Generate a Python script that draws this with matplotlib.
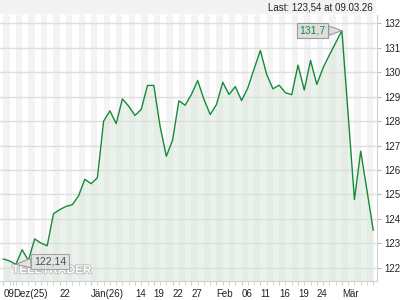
import matplotlib
matplotlib.use('Agg')
import matplotlib.pyplot as plt
import matplotlib.patheffects as pe
from matplotlib.patches import Rectangle
import numpy as np

#Closing prices, one per trading day (09.12.25 - 09.03.26)
prices = [122.36, 122.28, 122.14, 122.74, 122.30, 123.18, 123.01, 122.90, 124.21, 124.38,
          124.51, 124.58, 124.94, 125.62, 125.44, 125.68, 128.00, 128.42, 127.90, 128.91,
          128.61, 128.23, 128.48, 129.46, 129.46, 127.79, 126.56, 127.22, 128.83, 128.65,
          129.09, 129.66, 128.89, 128.27, 128.68, 129.59, 129.09, 129.41, 128.84, 129.36,
          130.14, 130.89, 129.91, 129.32, 129.47, 129.16, 129.08, 130.29, 129.27, 130.48,
          129.50, 130.18, 130.70, 131.20, 131.70, 128.27, 124.79, 126.77, 125.16, 123.54]

#Date labels and the trading day index they sit on
date_labels = ['09', 'Dez(25)', '22', 'Jän(26)', '14', '19', '22', '27',
               'Feb', '06', '11', '16', '19', '24', 'Mär']
date_index = [0, 1.55, 9, 14, 21, 24, 27, 30, 34, 38, 41, 44, 47, 50, 54]

y_ticks = [122, 123, 124, 125, 126, 127, 128, 129, 130, 131, 132]

last_text = 'Last: 123,54 at 09.03.26'

plt.rcParams['font.family'] = ['Liberation Sans', 'DejaVu Sans']

x = np.arange(len(prices))
y = np.array(prices)

fig = plt.figure(figsize=(4.2, 3.0), dpi=100)
fig.patch.set_facecolor('white')

#Grey header strip with last price
fig.patches.append(Rectangle((0, 1 - 13 / 300), 375 / 420, 13 / 300,
                             transform=fig.transFigure, color='#f3f3f3', zorder=0))
fig.text(373 / 420, 1 - 7.5 / 300, last_text, ha='right', va='center',
         fontsize=7, color='#222222')

ax = fig.add_axes([0, 19 / 300, 377 / 420, 266 / 300])
ax.set_facecolor('white')

#Alternating day stripes
for i in range(0, len(prices), 2):
    ax.axvspan(i, i + 1, color='#f3f3f3', lw=0, zorder=0)

#Horizontal grid
for v in y_ticks:
    ax.axhline(v, color='#dedede', lw=1, zorder=1)

ax.set_ylim(121.46, 132.34)
ax.set_xlim(-0.53, 59.6)

#Price line and fill
ax.fill_between(x, y, 121.46, color='#d8e6d8', alpha=0.5, lw=0, zorder=2)
ax.plot(x, y, color='#178a3a', lw=1, zorder=3)

#High / low call-outs
imax = int(np.argmax(y))
imin = int(np.argmin(y))
pointer = dict(arrowstyle='wedge,tail_width=0.9,shrink_factor=0.5',
               fc='#dedede', ec='#9a9a9a', lw=0.8, shrinkA=0, shrinkB=0)
ax.annotate(('%.1f' % y[imax]).replace('.', ','), xy=(imax, y[imax]),
            xytext=(-21, 0), textcoords='offset points', ha='center', va='center',
            fontsize=7.5, color='#178a3a', zorder=6,
            bbox=dict(boxstyle='square,pad=0.25', fc='#dedede', ec='#9a9a9a', lw=0.8),
            arrowprops=pointer)

#Watermark
ax.text(0.032, 0.04, 'TELETRADER', transform=ax.transAxes, fontsize=8.5,
        fontweight='bold', color='white', ha='left', va='center', zorder=4,
        path_effects=[pe.withStroke(linewidth=1.2, foreground='#b8b8b8')])

ax.annotate(('%.2f' % y[imin]).replace('.', ','), xy=(imin, y[imin]),
            xytext=(24.5, 2), textcoords='offset points', ha='center', va='center',
            fontsize=7.5, color='#3c5a45', zorder=5,
            bbox=dict(boxstyle='square,pad=0.25', fc='#e2e2e2', ec='#9a9a9a', lw=0.8, alpha=0.85),
            arrowprops=dict(pointer, fc='#e2e2e2'))

#Axes styling
for s in ['top', 'left']:
    ax.spines[s].set_visible(False)
ax.spines['right'].set_color('#d0d0d0')
ax.spines['bottom'].set_color('#d0d0d0')

ax.yaxis.tick_right()
ax.set_yticks(y_ticks)
ax.set_yticklabels([str(v) for v in y_ticks])
ax.tick_params(axis='y', length=3, color='#bbbbbb', labelsize=7, pad=2, labelcolor='#222222')

ax.set_xticks(date_index)
ax.set_xticklabels(date_labels, ha='left')
ax.set_xticks(x, minor=True)
ax.tick_params(axis='x', which='both', length=3, color='#cccccc', labelsize=7,
               pad=3, labelcolor='#222222')

fig.savefig('out.png', dpi=100)
